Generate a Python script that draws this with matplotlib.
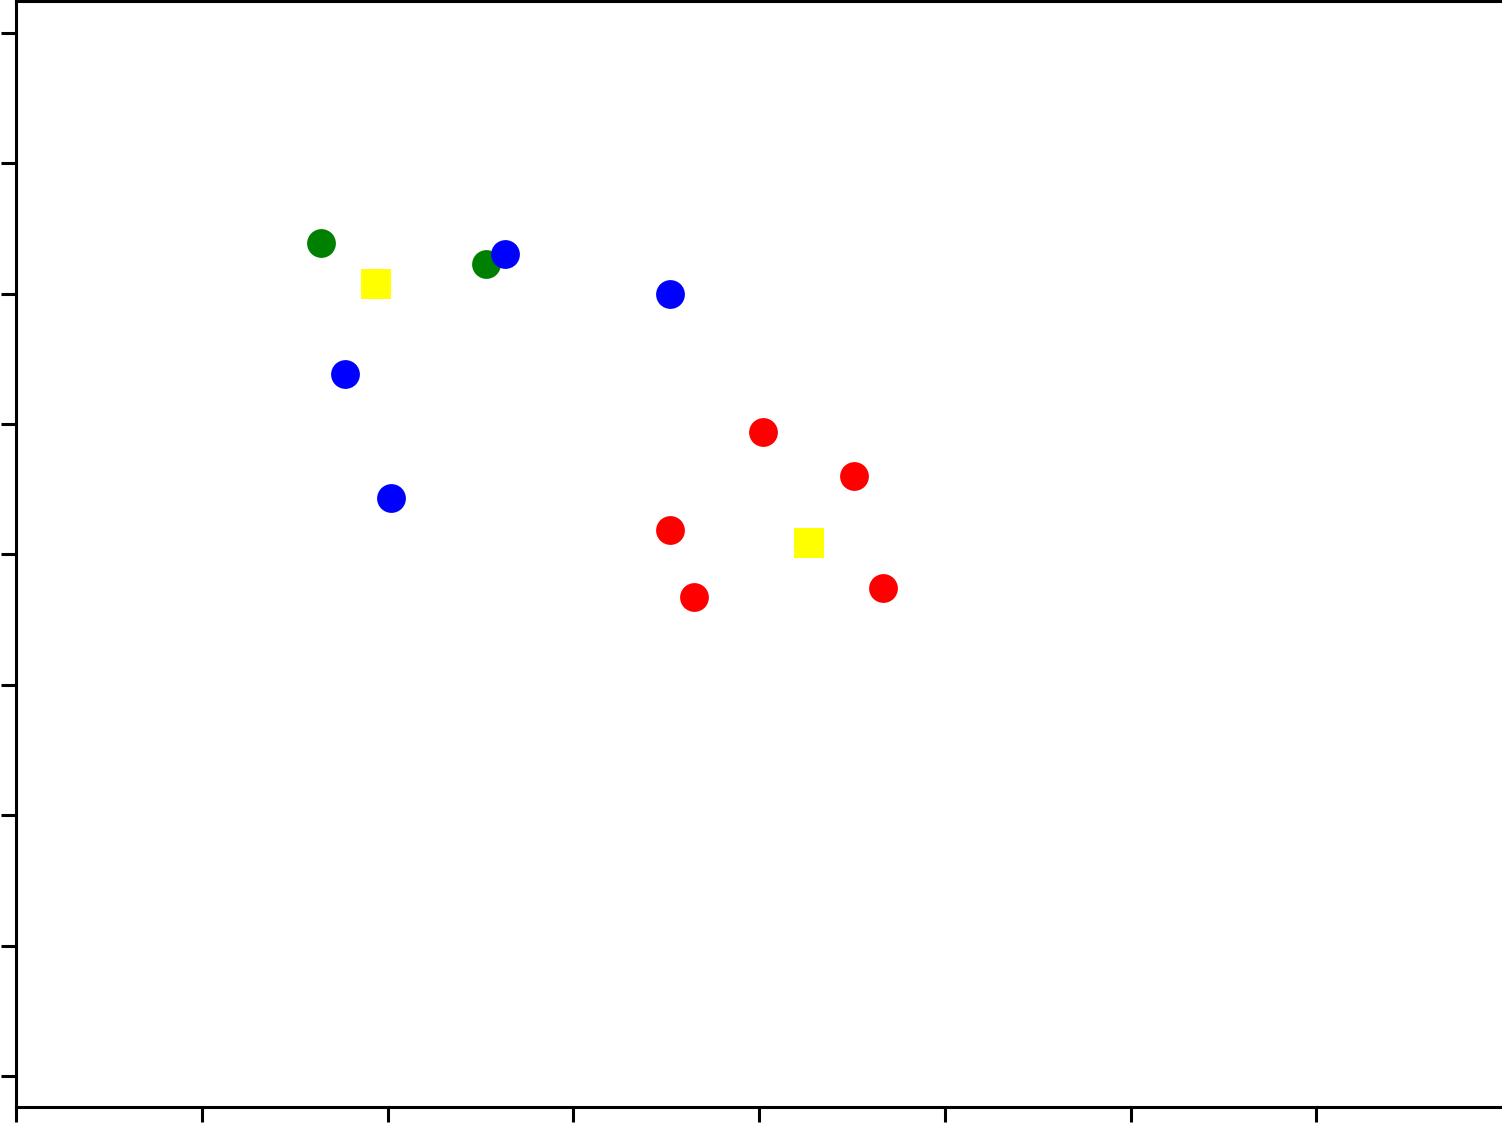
import matplotlib
matplotlib.use('Agg')
import matplotlib.pyplot as plt

# point positions, grouped by colour
green_x = [1.64, 2.53]
green_y = [6.39, 6.23]

blue_x = [2.63, 3.52, 1.77, 2.02]
blue_y = [6.30, 6.00, 5.38, 4.43]

red_x = [4.02, 4.51, 3.52, 3.65, 4.67]
red_y = [4.94, 4.60, 4.19, 3.67, 3.74]

centroid_x = [1.94, 4.27]
centroid_y = [6.07, 4.09]

x_ticks = [0, 1, 2, 3, 4, 5, 6, 7]
y_ticks = [0, 1, 2, 3, 4, 5, 6, 7, 8]

fig = plt.figure(figsize=(15.02, 11.23), dpi=100)
W, H = 1502, 1123
ax = fig.add_axes([16 / W, (H - 1107) / H, (1503.5 - 16) / W, (1107 - 1) / H])

size = 430
ax.scatter(green_x, green_y, s=size, c='green', linewidths=0, zorder=3)
ax.scatter(blue_x, blue_y, s=size, c='blue', linewidths=0, zorder=3)
ax.scatter(red_x, red_y, s=size, c='red', linewidths=0, zorder=3)
ax.scatter(centroid_x, centroid_y, s=470, c='yellow', marker='s', linewidths=0, zorder=4)

ax.set_xlim(0, 8 * 1487.5 / 1486)
ax.set_ylim((1076 - 1107) / 130.4, (1076 - 1) / 130.4)
ax.set_xticks(x_ticks)
ax.set_yticks(y_ticks)
ax.set_xticklabels([])
ax.set_yticklabels([])
ax.tick_params(direction='out', length=11, width=2.2)
for sp in ax.spines.values():
    sp.set_linewidth(2.2)

fig.savefig('out.png', dpi=100)
